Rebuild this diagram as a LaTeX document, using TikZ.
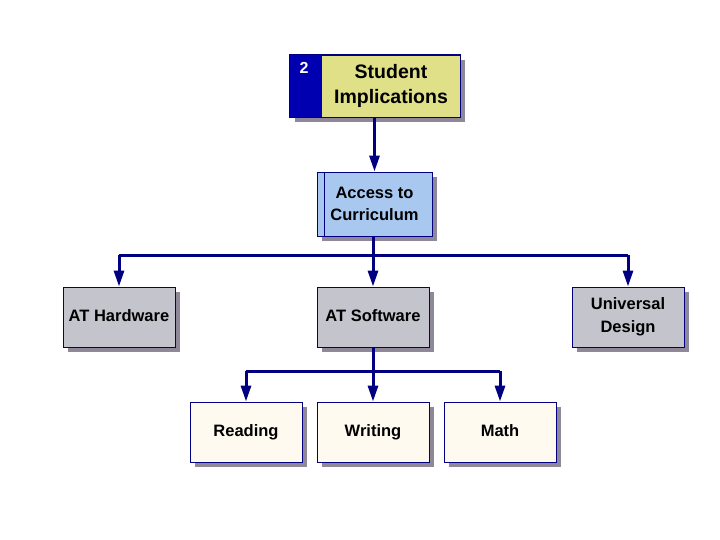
\documentclass[tikz,border=0pt]{standalone}
\usepackage{fontspec}
\setmainfont{Liberation Sans}
\usetikzlibrary{arrows.meta,shadows}
\definecolor{navy}{HTML}{000080}
\definecolor{navyfill}{HTML}{0000B0}
\definecolor{shade}{HTML}{8E8898}
\definecolor{graybox}{HTML}{C4C4CC}
\definecolor{bluebox}{HTML}{A8C8F0}
\definecolor{creambox}{HTML}{FFFAF0}
\definecolor{khaki}{HTML}{E0E088}
\tikzset{
  box/.style={draw=navy, line width=0.9pt, rectangle, align=center,
    font=\bfseries\fontsize{16.5}{22.5}\selectfont,
    drop shadow={shadow xshift=5pt, shadow yshift=-5pt, fill=shade, opacity=1}},
  hwbox/.style={box, fill=graybox, minimum width=112pt, minimum height=60pt},
  leafbox/.style={box, fill=creambox, minimum width=112pt, minimum height=60pt},
  conn/.style={draw=navy, line width=3pt},
  arr/.style={conn, -{Triangle[length=16pt,width=10pt]}},
}
\begin{document}
\begin{tikzpicture}[x=1pt,y=-1pt]
\useasboundingbox (0,0) rectangle (720,540);
% top box
\node[box, fill=khaki, minimum width=170pt, minimum height=62pt, inner sep=0pt] (top) at (375,86) {};
\fill[navyfill] (top.north west) rectangle ([xshift=32pt]top.south west);
\draw[navy, line width=0.9pt] (top.north west) rectangle (top.south east);
\node[text=white, font=\bfseries\fontsize{16}{18}\selectfont] (two) at (304,68) {2};
\node[align=center, font=\bfseries\fontsize{19.5}{25}\selectfont] (st) at (391,86) {Student\\Implications};
% access
\node[box, fill=bluebox, minimum width=115pt, minimum height=64pt] (acc) at (374.5,204) {Access to\\Curriculum};
\draw[navy, line width=1.2pt] ([xshift=8pt]acc.north west) -- ([xshift=8pt]acc.south west);
% level 2
\node[hwbox] (hw) at (119,317) {\strut AT Hardware};
\node[hwbox] (sw) at (373,317) {\strut AT Software};
\node[hwbox] (ud) at (628,317) {Universal\\Design};
% level 3
\node[leafbox] (rd) at (246,432) {\strut Reading};
\node[leafbox] (wr) at (373,432) {\strut Writing};
\node[leafbox] (ma) at (500,432) {\strut Math};
% connectors
\draw[arr] (top.south -| acc.north) -- (acc.north);
\coordinate (b1) at (373,255);
\coordinate (b2) at (373,371);
\draw[conn] (acc.south -| b1) -- (b1);
\draw[conn] (hw.north |- b1) -- (ud.north |- b1);
\draw[arr] (hw.north |- b1) -- (hw.north);
\draw[arr] (b1) -- (sw.north);
\draw[arr] (ud.north |- b1) -- (ud.north);
\draw[conn] (sw.south) -- (b2);
\draw[conn] (rd.north |- b2) -- (ma.north |- b2);
\draw[arr] (rd.north |- b2) -- (rd.north);
\draw[arr] (b2) -- (wr.north);
\draw[arr] (ma.north |- b2) -- (ma.north);
\end{tikzpicture}
\end{document}
